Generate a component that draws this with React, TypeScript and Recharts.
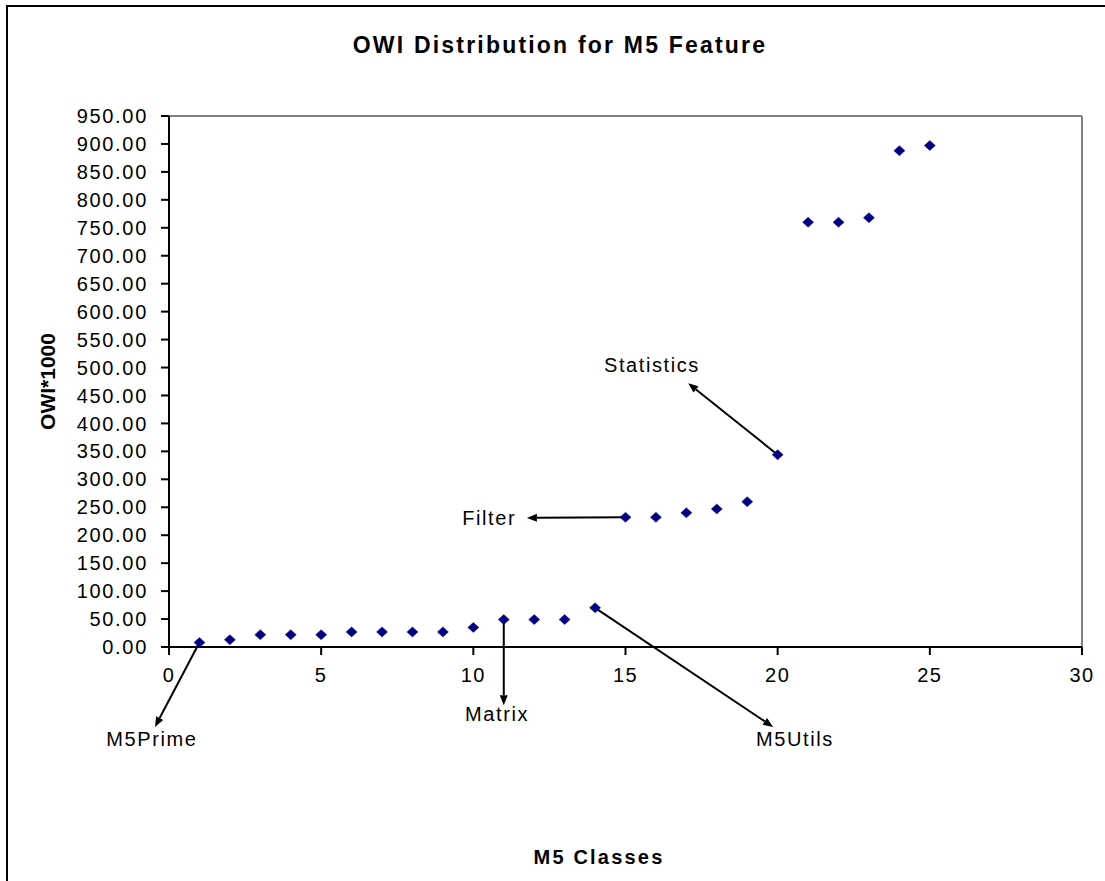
import React from 'react';
import {
  ScatterChart,
  Scatter,
  XAxis,
  YAxis,
  ReferenceLine,
  ReferenceDot,
} from 'recharts';

// ---- data ----
const classIds = [1, 2, 3, 4, 5, 6, 7, 8, 9, 10, 11, 12, 13, 14, 15, 16, 17, 18, 19, 20, 21, 22, 23, 24, 25];
const owiValues = [8, 13, 22, 22, 22, 27, 27, 27, 27, 35, 49, 49, 49, 70, 232, 232, 240, 247, 260, 344, 760, 760, 768, 888, 897];

const xTicks = [0, 5, 10, 15, 20, 25, 30];
const yTicks = [0, 50, 100, 150, 200, 250, 300, 350, 400, 450, 500, 550, 600, 650, 700, 750, 800, 850, 900, 950];

// annotations (data coordinates)
const annotationLabels = ['M5Prime', 'Matrix', 'M5Utils', 'Filter', 'Statistics'];
const arrowFromX = [1, 11, 14, 15, 20];
const arrowFromY = [8, 49, 70, 232, 344];
const arrowToX = [-0.46, 11, 19.85, 11.76, 17.06];
const arrowToY = [-143, -104, -143, 231, 472];
const labelX = [-0.56, 10.78, 20.57, 10.52, 15.87];
const labelY = [-165, -120, -165, 231, 505];

const points = classIds.map((x, i) => ({ x, y: owiValues[i] }));

const FONT = '"Liberation Sans", Arial, Helvetica, sans-serif';

const Diamond = (props: any) => {
  const { cx, cy } = props;
  if (cx == null || cy == null) return null;
  const w = 5.5;
  const h = 5;
  return (
    <polygon
      points={`${cx},${cy - h} ${cx + w},${cy} ${cx},${cy + h} ${cx - w},${cy}`}
      fill="#000080"
      stroke="#000080"
      strokeWidth={0.5}
    />
  );
};

const Arrow = (props: any) => {
  const { x1, y1, x2, y2 } = props;
  if ([x1, y1, x2, y2].some((v) => v == null || isNaN(v))) return null;
  const dx = x2 - x1;
  const dy = y2 - y1;
  const len = Math.sqrt(dx * dx + dy * dy) || 1;
  const ux = dx / len;
  const uy = dy / len;
  const hl = 10;
  const hw = 4;
  const bx = x2 - ux * hl;
  const by = y2 - uy * hl;
  const px = -uy;
  const py = ux;
  return (
    <g>
      <line x1={x1} y1={y1} x2={bx} y2={by} stroke="#000" strokeWidth={2} />
      <polygon
        points={`${x2},${y2} ${bx + px * hw},${by + py * hw} ${bx - px * hw},${by - py * hw}`}
        fill="#000"
      />
    </g>
  );
};

const makeLabelShape = (text: string) => (props: any) => {
  const { cx, cy } = props;
  if (cx == null || cy == null) return null;
  return (
    <text
      x={cx}
      y={cy}
      textAnchor="middle"
      dominantBaseline="central"
      style={{ fontSize: 20, fill: '#000', letterSpacing: '1.6px', fontFamily: FONT }}
    >
      {text}
    </text>
  );
};

const yAxisTitle = (props: any) => {
  const vb = props.viewBox || {};
  const x = (vb.x || 0) + 47;
  const y = (vb.y || 0) + (vb.height || 0) / 2;
  return (
    <text
      x={x}
      y={y}
      transform={`rotate(-90, ${x}, ${y})`}
      textAnchor="middle"
      dominantBaseline="central"
      style={{ fontSize: 21, fontWeight: 'bold', fill: '#000', fontFamily: FONT }}
    >
      OWI*1000
    </text>
  );
};

export default function App() {
  return (
    <div
      style={{
        position: 'fixed',
        left: 0,
        top: 0,
        width: 1105,
        height: 881,
        overflow: 'hidden',
        background: '#fff',
        fontFamily: FONT,
      }}
    >
      <div
        style={{
          position: 'absolute',
          left: 6,
          top: 5,
          width: 1200,
          height: 1000,
          border: '2px solid #000',
        }}
      />
      <div
        style={{
          position: 'absolute',
          left: 0,
          top: 34,
          width: 1120,
          textAlign: 'center',
          fontSize: 23,
          lineHeight: 1,
          fontWeight: 'bold',
          letterSpacing: '2.2px',
          color: '#000',
        }}
      >
        OWI Distribution for M5 Feature
      </div>
      <div
        style={{
          position: 'absolute',
          left: 0,
          top: 847,
          width: 1198,
          textAlign: 'center',
          fontSize: 20,
          lineHeight: 1,
          fontWeight: 'bold',
          letterSpacing: '2.2px',
          color: '#000',
        }}
      >
        M5 Classes
      </div>
      <div style={{ position: 'absolute', left: 0, top: 0 }}>
        <ScatterChart
          width={1105}
          height={881}
          margin={{ top: 116, right: 23, bottom: 174, left: 0 }}
        >
          <XAxis
            type="number"
            dataKey="x"
            domain={[0, 30]}
            ticks={xTicks}
            interval={0}
            height={60}
            tickSize={8}
            tickMargin={13}
            axisLine={{ stroke: '#000', strokeWidth: 2 }}
            tickLine={{ stroke: '#000', strokeWidth: 2 }}
            tick={{ fontSize: 20, fill: '#000', style: { letterSpacing: '1.5px' } }}
          />
          <YAxis
            type="number"
            dataKey="y"
            domain={[0, 950]}
            ticks={yTicks}
            interval={0}
            width={169}
            tickSize={8}
            tickMargin={13}
            tickFormatter={(v: number) => v.toFixed(2)}
            axisLine={{ stroke: '#000', strokeWidth: 2 }}
            tickLine={{ stroke: '#000', strokeWidth: 2 }}
            tick={{ fontSize: 20, fill: '#000', style: { letterSpacing: '1.7px' } }}
            label={{ content: yAxisTitle }}
          />
          <ReferenceLine y={950} stroke="#808080" strokeWidth={2} />
          <ReferenceLine x={30} stroke="#808080" strokeWidth={2} />
          {annotationLabels.map((name, i) => (
            <ReferenceLine
              key={`arrow-${name}`}
              segment={[
                { x: arrowFromX[i], y: arrowFromY[i] },
                { x: arrowToX[i], y: arrowToY[i] },
              ]}
              ifOverflow="visible"
              shape={Arrow}
            />
          ))}
          {annotationLabels.map((name, i) => (
            <ReferenceDot
              key={`label-${name}`}
              x={labelX[i]}
              y={labelY[i]}
              r={0}
              ifOverflow="visible"
              shape={makeLabelShape(name)}
            />
          ))}
          <Scatter
            data={points}
            shape={Diamond}
            isAnimationActive={false}
          />
        </ScatterChart>
      </div>
    </div>
  );
}
